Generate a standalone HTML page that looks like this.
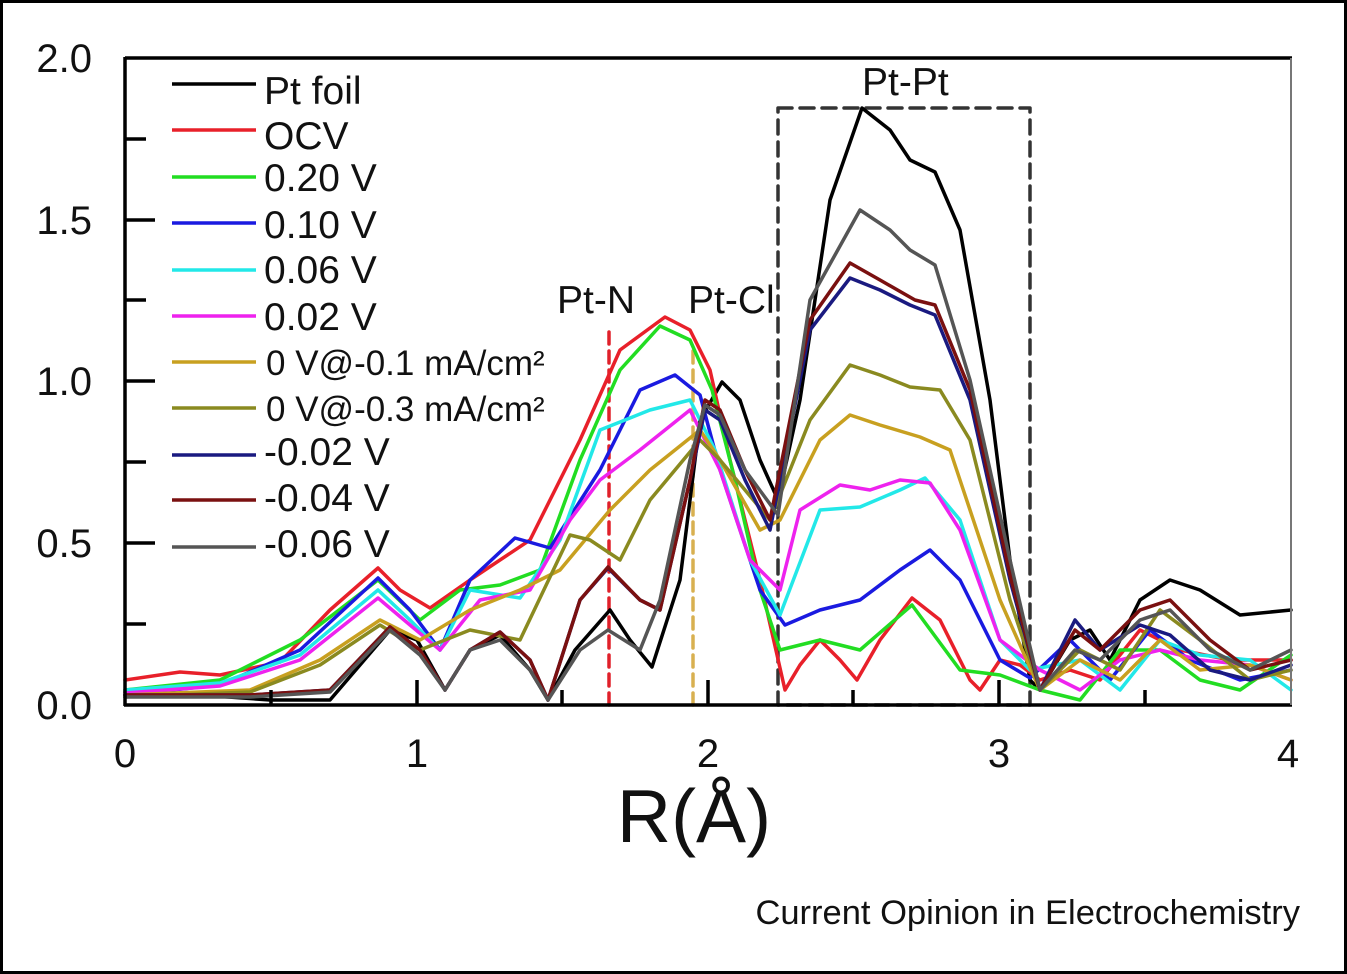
<!DOCTYPE html>
<html><head><meta charset="utf-8"><style>
html,body{margin:0;padding:0;background:#fff}
svg{display:block}
text{font-family:"Liberation Sans",Arial,sans-serif;fill:#111}
</style></head><body>
<svg width="1347" height="974" viewBox="0 0 1347 974" xmlns="http://www.w3.org/2000/svg">
<rect x="1.5" y="1.5" width="1344" height="971" fill="#fff" stroke="#000" stroke-width="3"/>
<g fill="none" stroke-width="3.5" stroke-linejoin="round" stroke-linecap="round">
<line x1="609" y1="705" x2="609" y2="330" stroke="#e0202a" stroke-dasharray="12,7"/>
<line x1="693" y1="705" x2="693" y2="345" stroke="#d8b050" stroke-dasharray="12,7"/>
<rect x="778" y="108" width="252" height="597" stroke="#333" stroke-dasharray="14,8"/>
<polyline stroke="#000000" points="125,692 200,695 270,700 330,700 390,630 417,640 445,690 470,650 500,635 530,670 548,700 575,650 610,610 630,640 652,667 680,580 700,420 722,382 740,400 760,460 778,500 800,400 830,200 862,108 890,130 910,160 935,172 960,230 990,400 1010,560 1030,680 1040,690 1070,640 1090,630 1110,660 1140,600 1170,580 1200,590 1240,615 1291,610"/>
<polyline stroke="#e8202a" points="125,680 180,672 220,675 280,662 330,610 378,568 400,590 430,608 470,580 530,540 580,440 620,350 665,317 690,330 710,370 730,460 760,580 785,690 800,665 820,640 840,660 857,680 880,640 912,598 940,620 970,680 980,690 1000,660 1020,665 1040,680 1070,670 1100,680 1140,630 1180,650 1230,660 1291,660"/>
<polyline stroke="#22dd22" points="125,690 220,680 300,640 378,580 420,620 460,590 500,585 540,570 580,460 620,370 660,326 690,340 712,390 735,480 760,590 780,650 820,640 860,650 912,605 960,670 1000,675 1040,690 1080,700 1120,650 1160,650 1200,680 1240,690 1291,655"/>
<polyline stroke="#1a1ae0" points="125,695 220,685 300,650 378,578 410,610 440,650 470,580 515,538 550,548 600,470 640,390 675,375 700,395 720,470 760,590 785,625 820,610 860,600 900,570 930,550 960,580 1000,660 1030,678 1070,640 1110,680 1150,630 1190,660 1240,680 1291,670"/>
<polyline stroke="#22e8e8" points="125,690 220,683 300,655 378,590 410,620 440,650 470,590 520,598 560,540 600,430 650,410 690,400 715,450 750,560 780,615 820,510 860,507 900,490 925,478 960,520 1000,640 1030,670 1080,660 1120,690 1160,640 1200,655 1250,660 1291,690"/>
<polyline stroke="#ee22ee" points="125,693 220,686 300,660 378,598 410,625 440,650 480,600 530,590 570,520 600,480 640,450 690,410 720,470 750,560 780,590 800,510 840,485 870,490 900,480 930,483 960,530 1000,640 1040,670 1080,690 1120,660 1160,650 1200,660 1250,665 1291,680"/>
<polyline stroke="#c8a020" points="125,695 250,690 320,660 380,620 420,640 470,610 520,590 560,570 610,510 650,470 700,430 720,460 760,530 780,520 820,440 850,415 880,425 920,437 950,450 1000,600 1040,690 1080,660 1120,680 1160,640 1200,670 1250,665 1291,680"/>
<polyline stroke="#8a8a20" points="125,697 250,692 320,665 380,625 420,650 470,630 520,640 570,535 590,540 620,560 650,500 700,440 720,460 770,520 810,420 850,365 880,375 910,387 940,390 970,440 1010,600 1040,690 1080,650 1120,670 1160,610 1200,640 1250,680 1291,670"/>
<polyline stroke="#1a1a80" points="125,695 250,695 330,690 390,627 420,650 445,690 470,650 500,632 530,660 548,700 580,600 608,568 640,600 660,610 690,480 705,410 720,420 745,480 770,530 810,330 850,278 880,290 910,305 935,315 970,400 1010,580 1040,690 1075,620 1100,650 1140,625 1170,635 1210,670 1250,680 1291,665"/>
<polyline stroke="#7a1010" points="125,695 250,695 330,690 390,627 420,650 445,690 470,650 500,632 530,660 548,700 580,600 608,567 640,600 660,610 690,480 705,400 720,410 745,470 770,520 810,320 850,263 880,280 915,300 935,305 970,390 1010,575 1040,690 1075,630 1100,650 1140,610 1170,600 1210,640 1250,670 1291,660"/>
<polyline stroke="#555555" points="125,697 250,697 330,692 390,630 420,655 445,690 470,650 500,640 530,670 548,700 580,650 608,630 640,650 660,600 690,460 705,405 720,415 745,470 778,515 810,300 860,210 890,230 910,250 935,265 970,380 1010,560 1040,690 1075,650 1100,660 1140,620 1170,610 1210,650 1250,670 1291,650"/>
</g>
<g stroke="#000" stroke-width="3.5" fill="none">
<line x1="125" y1="58" x2="1292" y2="58"/>
<line x1="125" y1="57" x2="125" y2="706"/>
<line x1="124" y1="705" x2="1292" y2="705"/>
<line x1="1291" y1="58" x2="1291" y2="705" stroke="#777" stroke-width="2"/>
<line x1="125" y1="139" x2="146" y2="139"/><line x1="125" y1="220" x2="155" y2="220"/>
<line x1="125" y1="300" x2="146" y2="300"/><line x1="125" y1="381" x2="155" y2="381"/>
<line x1="125" y1="462" x2="146" y2="462"/><line x1="125" y1="543" x2="155" y2="543"/>
<line x1="125" y1="624" x2="146" y2="624"/>
<line x1="271" y1="705" x2="271" y2="690"/><line x1="417" y1="705" x2="417" y2="680"/>
<line x1="562" y1="705" x2="562" y2="690"/><line x1="708" y1="705" x2="708" y2="680"/>
<line x1="853" y1="705" x2="853" y2="690"/><line x1="999" y1="705" x2="999" y2="680"/>
<line x1="1145" y1="705" x2="1145" y2="690"/>
</g>
<g font-size="40" text-anchor="end">
<text x="92" y="72">2.0</text><text x="92" y="234">1.5</text><text x="92" y="395">1.0</text><text x="92" y="557">0.5</text><text x="92" y="719">0.0</text>
</g>
<g font-size="40" text-anchor="middle">
<text x="125" y="767">0</text><text x="417" y="767">1</text><text x="708" y="767">2</text><text x="999" y="767">3</text><text x="1288" y="767">4</text>
</g>
<text x="694" y="842" font-size="75" text-anchor="middle">R(Å)</text>
<text x="1300" y="924" font-size="34.5" text-anchor="end">Current Opinion in Electrochemistry</text>
<g font-size="39">
<text x="557" y="313">Pt-N</text><text x="688" y="313">Pt-Cl</text><text x="862" y="95">Pt-Pt</text>
</g>
<g stroke-width="3.5">
<line x1="172" y1="84" x2="256" y2="84" stroke="#000"/>
<line x1="172" y1="130" x2="256" y2="130" stroke="#e8202a"/>
<line x1="172" y1="177" x2="256" y2="177" stroke="#22dd22"/>
<line x1="172" y1="223" x2="256" y2="223" stroke="#1a1ae0"/>
<line x1="172" y1="270" x2="256" y2="270" stroke="#22e8e8"/>
<line x1="172" y1="316" x2="256" y2="316" stroke="#ee22ee"/>
<line x1="172" y1="362" x2="256" y2="362" stroke="#c8a020"/>
<line x1="172" y1="408" x2="256" y2="408" stroke="#8a8a20"/>
<line x1="172" y1="455" x2="256" y2="455" stroke="#1a1a80"/>
<line x1="172" y1="500" x2="256" y2="500" stroke="#7a1010"/>
<line x1="172" y1="547" x2="256" y2="547" stroke="#555"/>
</g>
<g font-size="39">
<text x="264" y="104">Pt foil</text>
<text x="264" y="149">OCV</text>
<text x="264" y="191">0.20 V</text>
<text x="264" y="238">0.10 V</text>
<text x="264" y="283">0.06 V</text>
<text x="264" y="330">0.02 V</text>
<text x="266" y="375" font-size="35">0 V@-0.1 mA/cm²</text>
<text x="266" y="421" font-size="35">0 V@-0.3 mA/cm²</text>
<text x="264" y="465">-0.02 V</text>
<text x="264" y="511">-0.04 V</text>
<text x="264" y="557">-0.06 V</text>
</g>
</svg>
</body></html>
